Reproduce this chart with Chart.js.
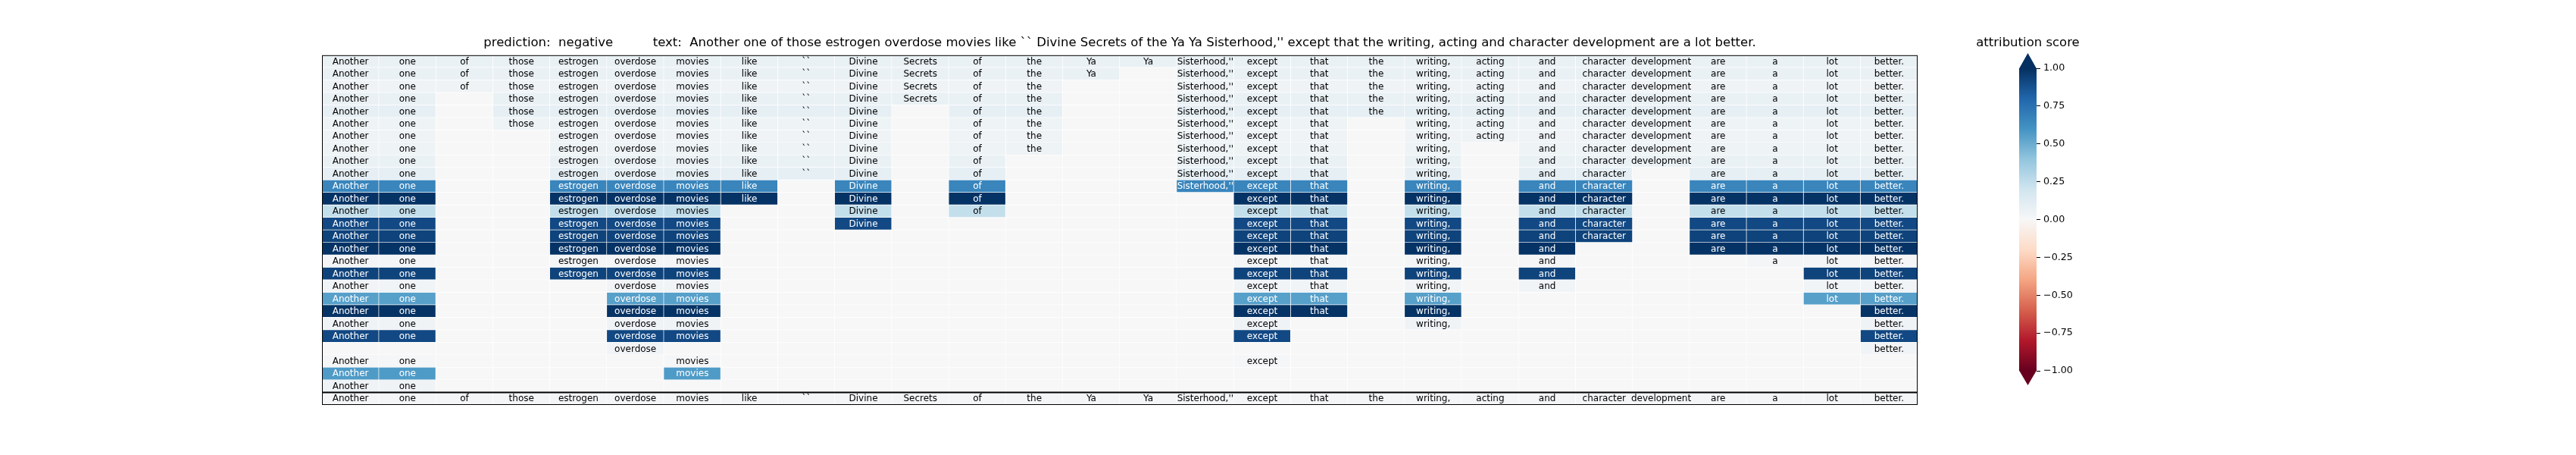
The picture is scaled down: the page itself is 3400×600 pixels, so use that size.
<!DOCTYPE html>
<html>
<head>
<meta charset="utf-8">
<script src="https://cdn.jsdelivr.net/npm/chart.js@4.4.1/dist/chart.umd.min.js"></script>
<style>
  html, body { margin: 0; padding: 0; background: #ffffff; width: 3400px; height: 600px; overflow: hidden; }
  #main { position: absolute; left: 0; top: 0; }
  #cbar { position: absolute; left: 2600px; top: 0; }
</style>
</head>
<body>
<canvas id="main" width="3400" height="600"></canvas>
<canvas id="cbar" width="200" height="600"></canvas>
<script>
// ---------------- data ----------------
const tokens = ["Another", "one", "of", "those", "estrogen", "overdose", "movies", "like", "``",
  "Divine", "Secrets", "of", "the", "Ya", "Ya", "Sisterhood,''", "except", "that", "the",
  "writing,", "acting", "and", "character", "development", "are", "a", "lot", "better."];

const predictionLabel = "negative";

// attribution score of each row (27 perturbed rows + original sentence)
const rowScores = [0.07, 0.07, 0.04, 0.07, 0.09, 0.05, 0.04, 0.05, 0.07, 0.09,
  0.66, 0.99, 0.24, 0.91, 0.93, 0.99, 0.02, 0.93, 0.03, 0.55,
  0.99, 0.04, 0.91, 0.03, 0.01, 0.57, 0.04, 0.02];

const allTokens = tokens.map((_, i) => i);
// indices of the tokens kept in each row
const keptTokens = [
  allTokens,
  [0,1,2,3,4,5,6,7,8,9,10,11,12,13,15,16,17,18,19,20,21,22,23,24,25,26,27],
  [0,1,2,3,4,5,6,7,8,9,10,11,12,15,16,17,18,19,20,21,22,23,24,25,26,27],
  [0,1,3,4,5,6,7,8,9,10,11,12,15,16,17,18,19,20,21,22,23,24,25,26,27],
  [0,1,3,4,5,6,7,8,9,11,12,15,16,17,18,19,20,21,22,23,24,25,26,27],
  [0,1,3,4,5,6,7,8,9,11,12,15,16,17,19,20,21,22,23,24,25,26,27],
  [0,1,4,5,6,7,8,9,11,12,15,16,17,19,20,21,22,23,24,25,26,27],
  [0,1,4,5,6,7,8,9,11,12,15,16,17,19,21,22,23,24,25,26,27],
  [0,1,4,5,6,7,8,9,11,15,16,17,19,21,22,23,24,25,26,27],
  [0,1,4,5,6,7,8,9,11,15,16,17,19,21,22,24,25,26,27],
  [0,1,4,5,6,7,9,11,15,16,17,19,21,22,24,25,26,27],
  [0,1,4,5,6,7,9,11,16,17,19,21,22,24,25,26,27],
  [0,1,4,5,6,9,11,16,17,19,21,22,24,25,26,27],
  [0,1,4,5,6,9,16,17,19,21,22,24,25,26,27],
  [0,1,4,5,6,16,17,19,21,22,24,25,26,27],
  [0,1,4,5,6,16,17,19,21,24,25,26,27],
  [0,1,4,5,6,16,17,19,21,25,26,27],
  [0,1,4,5,6,16,17,19,21,26,27],
  [0,1,5,6,16,17,19,21,26,27],
  [0,1,5,6,16,17,19,26,27],
  [0,1,5,6,16,17,19,27],
  [0,1,5,6,16,19,27],
  [0,1,5,6,16,27],
  [5,27],
  [0,1,6,16],
  [0,1,6],
  [0,1],
  allTokens
];

const colorbarTicks = [-1, -0.75, -0.5, -0.25, 0, 0.25, 0.5, 0.75, 1];
const colorbarTitle = "attribution score";

// ---------------- styling helpers ----------------
const FONT = "'DejaVu Sans', 'Noto Sans', sans-serif";
const RDBU = ['#67001f','#b2182b','#d6604d','#f4a582','#fddbc7','#f7f7f7',
              '#d1e5f0','#92c5de','#4393c3','#2166ac','#053061'];
function hexRgb(h) { return [parseInt(h.slice(1,3),16), parseInt(h.slice(3,5),16), parseInt(h.slice(5,7),16)]; }
function rdbu(v) {
  const t = (Math.max(-1, Math.min(1, v)) + 1) / 2 * 10;
  const i = Math.min(9, Math.floor(t));
  const f = t - i;
  const a = hexRgb(RDBU[i]), b = hexRgb(RDBU[i + 1]);
  const c = a.map((x, k) => Math.round(x + (b[k] - x) * f));
  return `rgb(${c[0]},${c[1]},${c[2]})`;
}
const keptSets = keptTokens.map(k => new Set(k));
function cellValue(r, j) { return keptSets[r].has(j) ? rowScores[r] : 0; }

const sentence = tokens.join(' ');
const titleText = 'prediction:  ' + predictionLabel + '          text:  ' + sentence;
const rowLabels = rowScores.map((_, i) => 'row ' + (i + 1));

// ---------------- main heatmap ----------------
const cellTextPlugin = {
  id: 'cellText',
  afterDatasetsDraw(chart) {
    const { ctx, chartArea, scales: { x, y } } = chart;
    ctx.save();
    ctx.font = '12px ' + FONT;
    ctx.textAlign = 'center';
    ctx.textBaseline = 'middle';
    rowScores.forEach((s, r) => {
      const yc = y.getPixelForValue(r);
      keptTokens[r].forEach(j => {
        const xc = x.getPixelForValue(j + 0.5);
        ctx.fillStyle = s > 0.45 ? '#ffffff' : '#000000';
        ctx.fillText(tokens[j], xc, yc + 0.5);
      });
    });
    // separator between perturbed rows and the original sentence
    const n = rowScores.length;
    const ySep = (y.getPixelForValue(n - 2) + y.getPixelForValue(n - 1)) / 2;
    ctx.strokeStyle = '#000000';
    ctx.lineWidth = 2;
    ctx.beginPath();
    ctx.moveTo(chartArea.left, ySep);
    ctx.lineTo(chartArea.right, ySep);
    ctx.stroke();
    // frame
    ctx.lineWidth = 1;
    ctx.strokeRect(chartArea.left + 0.5, chartArea.top + 0.5,
                   chartArea.right - chartArea.left - 1, chartArea.bottom - chartArea.top - 1);
    ctx.restore();
  }
};

new Chart(document.getElementById('main'), {
  type: 'bar',
  data: {
    labels: rowLabels,
    datasets: tokens.map((tok, j) => ({
      label: tok,
      data: rowLabels.map(() => 1),
      backgroundColor: ctx => rdbu(cellValue(ctx.dataIndex, j)),
      borderColor: 'rgba(255,255,255,0.22)',
      borderWidth: { top: 0, left: 0, right: 1, bottom: 1 },
      borderSkipped: false,
      barPercentage: 1,
      categoryPercentage: 1,
      stack: 'cells'
    }))
  },
  options: {
    indexAxis: 'y',
    responsive: false,
    animation: false,
    devicePixelRatio: 1,
    layout: { padding: { left: 425, right: 869, top: 40, bottom: 66 } },
    plugins: {
      legend: { display: false },
      tooltip: { enabled: false },
      title: {
        display: true,
        text: titleText,
        color: '#000000',
        font: { family: FONT, size: 16.5, weight: 'normal', lineHeight: 1.2 },
        padding: { top: 7, bottom: 6 }
      }
    },
    scales: {
      x: { type: 'linear', stacked: true, min: 0, max: tokens.length, display: false },
      y: { stacked: true, display: false }
    }
  },
  plugins: [cellTextPlugin]
});

// ---------------- colorbar ----------------
const cbarExtras = {
  id: 'cbarExtras',
  afterDatasetsDraw(chart) {
    const { ctx, chartArea } = chart;
    const { left, right, top, bottom } = chartArea;
    const cx = (left + right) / 2;
    ctx.save();
    ctx.fillStyle = rdbu(1);
    ctx.beginPath();
    ctx.moveTo(left, top + 0.5); ctx.lineTo(right, top + 0.5); ctx.lineTo(cx, top - 20); ctx.closePath();
    ctx.fill();
    ctx.fillStyle = rdbu(-1);
    ctx.beginPath();
    ctx.moveTo(left, bottom - 0.5); ctx.lineTo(right, bottom - 0.5); ctx.lineTo(cx, bottom + 19); ctx.closePath();
    ctx.fill();
    ctx.fillStyle = '#000000';
    ctx.font = '16.5px ' + FONT;
    ctx.textAlign = 'center';
    ctx.textBaseline = 'middle';
    ctx.fillText(colorbarTitle, cx, 57);
    ctx.restore();
  }
};

new Chart(document.getElementById('cbar'), {
  type: 'bar',
  data: {
    labels: [colorbarTitle],
    datasets: [{
      data: [[colorbarTicks[0], colorbarTicks[colorbarTicks.length - 1]]],
      backgroundColor: ctx => {
        const chart = ctx.chart;
        if (!chart.chartArea) return rdbu(0);
        const ys = chart.scales.y;
        const g = chart.ctx.createLinearGradient(0, ys.getPixelForValue(-1), 0, ys.getPixelForValue(1));
        RDBU.forEach((c, i) => g.addColorStop(i / (RDBU.length - 1), c));
        return g;
      },
      borderWidth: 0,
      barPercentage: 1,
      categoryPercentage: 1
    }]
  },
  options: {
    responsive: false,
    animation: false,
    devicePixelRatio: 1,
    layout: { padding: { left: 65, right: 52, top: 90, bottom: 111 } },
    plugins: { legend: { display: false }, tooltip: { enabled: false }, title: { display: false } },
    scales: {
      x: { display: false },
      y: {
        position: 'right',
        min: -1,
        max: 1,
        afterBuildTicks: scale => { scale.ticks = colorbarTicks.map(v => ({ value: v })); },
        afterFit: scale => { scale.width = 60; },
        ticks: {
          color: '#000000',
          padding: 4,
          font: { family: FONT, size: 12.7 },
          callback: v => (v < 0 ? '\u2212' : '') + Math.abs(v).toFixed(2)
        },
        grid: { display: true, drawOnChartArea: false, drawTicks: true, tickLength: 5, color: '#000000', lineWidth: 1 },
        border: { display: false }
      }
    }
  },
  plugins: [cbarExtras]
});
</script>
</body>
</html>
